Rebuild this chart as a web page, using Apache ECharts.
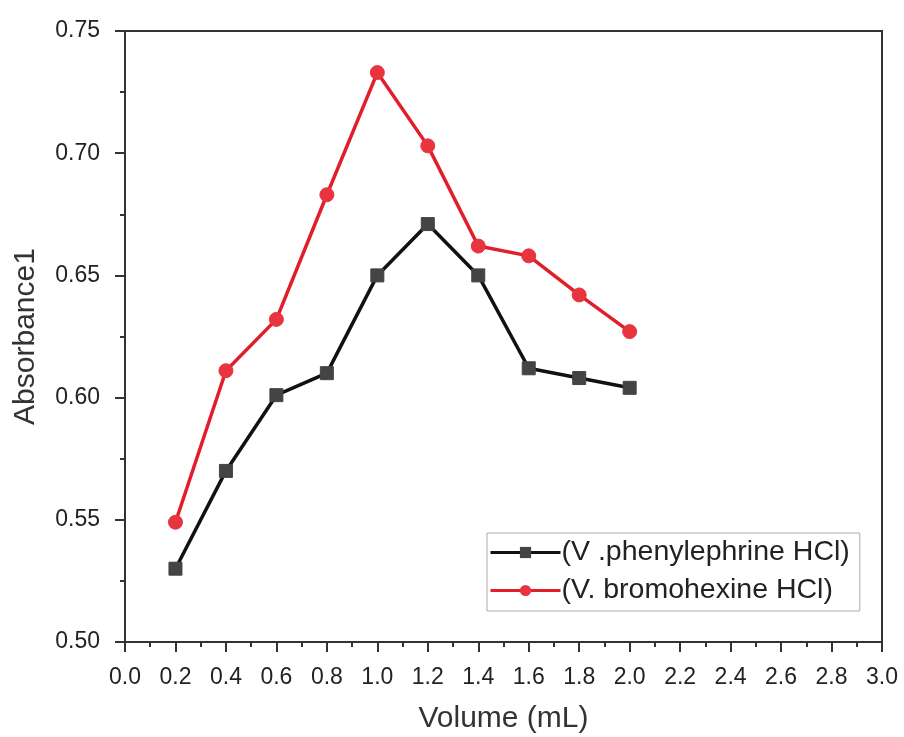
<!DOCTYPE html>
<html><head><meta charset="utf-8">
<script src="https://cdn.jsdelivr.net/npm/echarts@6/dist/echarts.min.js"></script>
<style>html,body{margin:0;padding:0;background:#fff}#c{width:904px;height:737px}</style>
</head><body><div id="c"></div>
<script>
const volume = [0.2,0.4,0.6,0.8,1.0,1.2,1.4,1.6,1.8,2.0];
const phenylephrine = [0.530,0.570,0.601,0.610,0.650,0.671,0.650,0.612,0.608,0.604];
const bromohexine = [0.549,0.611,0.632,0.683,0.733,0.703,0.662,0.658,0.642,0.627];
const seriesNames = ['(V .phenylephrine HCl)','(V. bromohexine HCl)'];

const chart = echarts.init(document.getElementById('c'));
const font = 'Liberation Sans, Arial, sans-serif';
chart.setOption({
  animation:false,
  backgroundColor:'#fff',
  grid:{left:125,top:31,right:22,bottom:95,outerBoundsMode:'none',containLabel:false,show:true,borderColor:'#333',borderWidth:2,backgroundColor:'transparent'},
  legend:{
    orient:'vertical',left:487,top:533,
    borderColor:'#aaa',borderWidth:1,padding:[5,10,6,2],
    itemWidth:70,itemHeight:14,itemGap:9,
    lineStyle:{width:3},
    textStyle:{fontSize:28.5,color:'#222',fontFamily:font,padding:[0,0,0,-4]},
    data:seriesNames
  },
  xAxis:{
    type:'value',min:0,max:3.0,interval:0.2,
    name:'Volume (mL)',nameLocation:'middle',nameGap:62,nameMoveOverlap:false,
    nameTextStyle:{fontSize:30,color:'#333',fontFamily:font},
    axisLine:{show:true,lineStyle:{color:'#333',width:2}},
    axisTick:{show:true,inside:false,length:10,lineStyle:{color:'#333',width:2}},
    minorTick:{show:true,splitNumber:2,length:5,lineStyle:{color:'#333',width:2}},
    splitLine:{show:false},
    axisLabel:{fontSize:23,color:'#222',fontFamily:font,margin:24,formatter:v=>v.toFixed(1)}
  },
  yAxis:{
    type:'value',min:0.5,max:0.75,interval:0.05,
    name:'Absorbance1',nameLocation:'middle',nameGap:84,nameMoveOverlap:false,
    nameTextStyle:{fontSize:30,color:'#333',fontFamily:font},
    axisLine:{show:true,lineStyle:{color:'#333',width:2}},
    axisTick:{show:true,inside:false,length:10,lineStyle:{color:'#333',width:2}},
    minorTick:{show:true,splitNumber:2,length:5,lineStyle:{color:'#333',width:2}},
    splitLine:{show:false},
    axisLabel:{fontSize:23,color:'#222',fontFamily:font,margin:25,formatter:v=>v.toFixed(2)}
  },
  series:[
    {name:seriesNames[0],type:'line',data:volume.map((x,i)=>[x,phenylephrine[i]]),
     symbol:'rect',symbolSize:13,
     lineStyle:{color:'#111',width:3.5},itemStyle:{color:'#444',borderColor:'#444'}},
    {name:seriesNames[1],type:'line',data:volume.map((x,i)=>[x,bromohexine[i]]),
     symbol:'circle',symbolSize:14,
     lineStyle:{color:'#e01f2b',width:3.5},itemStyle:{color:'#e8343f',borderColor:'#e8343f'}}
  ]
});
</script></body></html>
